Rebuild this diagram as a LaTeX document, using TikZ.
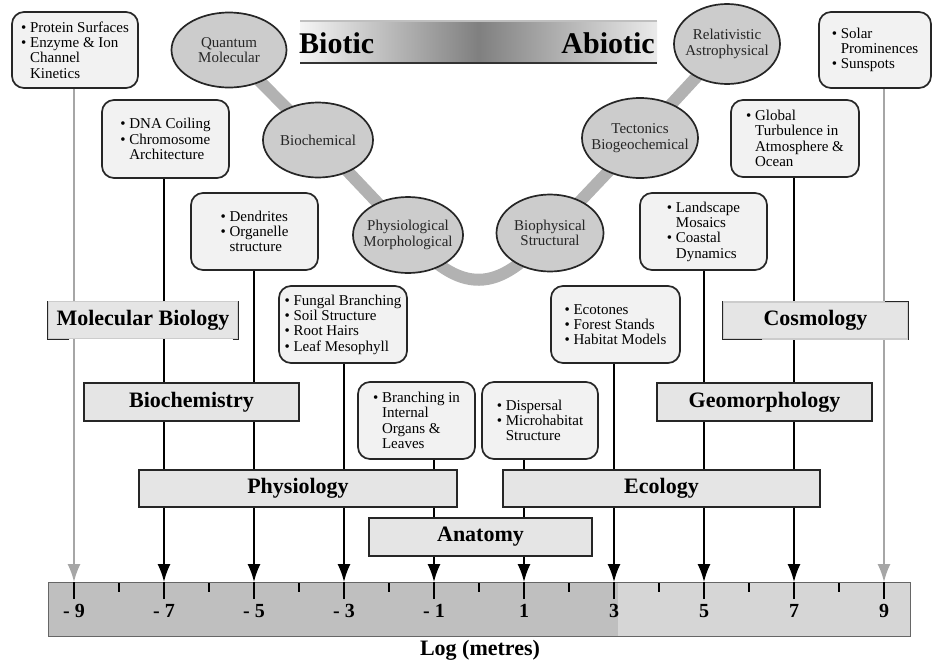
\documentclass[tikz,border=0pt]{standalone}
\usepackage{fontspec}
\setmainfont{Liberation Serif}
\usetikzlibrary{shapes.geometric,arrows.meta,backgrounds}
\tikzset{
  >={Latex[length=18pt,width=13pt]},
}
\tikzstyle{item}=[draw=black!85,line width=1.7pt,rounded corners=12pt,fill=black!5,align=left,inner sep=0pt,font=\fontsize{15}{15.3}\selectfont]
\tikzstyle{realm}=[ellipse,draw=black!85,line width=1.7pt,fill=black!20,text=black!85,align=center,inner sep=-9pt,font=\fontsize{15}{15.3}\selectfont]
\tikzstyle{subject}=[draw=black!85,line width=1.4pt,fill=black!10,inner sep=0pt,minimum height=37pt,font=\fontsize{22}{24}\selectfont\bfseries]
\tikzstyle{band}=[line width=12pt,black!30]
\tikzstyle{scaleline}=[line width=1.7pt,->]
\newcommand{\bul}{\makebox[9pt][l]{\textbullet}}
\newcommand{\ind}{\hspace*{9pt}}

\begin{document}
\begin{tikzpicture}[x=1pt,y=-1pt]
  \useasboundingbox (0,0) rectangle (933,662);
  % biotic / abiotic strip
  \shade[left color=black!4,right color=black!8,middle color=black!50] (300,21) rectangle (657,63);
  \draw[black!25,line width=1.5pt] (300,21) -- (657,21);
  \draw[black!80,line width=1.5pt] (300,63) -- (657,63);
  \node[anchor=west,inner sep=0pt,font=\fontsize{30}{32}\selectfont\bfseries] (biotic) at (299,43) {Biotic};
  \node[anchor=east,inner sep=0pt,font=\fontsize{30}{32}\selectfont\bfseries] (abiotic) at (655,43) {Abiotic};
  % scales of enquiry
  \node[realm,minimum width=115pt,minimum height=75pt] (quantum) at (229,50) {Quantum\\Molecular};
  \node[realm,minimum width=110pt,minimum height=75pt] (biochemical) at (318,140) {Biochemical};
  \node[realm,minimum width=110pt,minimum height=76pt] (physmorph) at (408,235) {Physiological\\Morphological};
  \node[realm,minimum width=107pt,minimum height=77pt] (biophys) at (550,233) {Biophysical\\Structural};
  \node[realm,minimum width=116pt,minimum height=80pt] (tecto) at (640,138) {Tectonics\\Biogeochemical};
  \node[realm,minimum width=106pt,minimum height=80pt] (relat) at (727,44) {Relativistic\\Astrophysical};
  % topics
  \node[item,minimum width=126pt,minimum height=76pt] (protein) at (75,50) {\bul Protein Surfaces\\\bul Enzyme \& Ion\\\ind Channel\\\ind Kinetics};
  \node[item,minimum width=127pt,minimum height=78pt] (dna) at (165.5,139) {\bul DNA Coiling\\\bul Chromosome\\\ind Architecture};
  \node[item,minimum width=127pt,minimum height=77pt] (dendr) at (254.5,231.5) {\bul Dendrites\\\bul Organelle\\\ind structure};
  \node[item,minimum width=128pt,minimum height=77pt] (fungal) at (343,324.5) {\bul Fungal Branching\\\bul Soil Structure\\\bul Root Hairs\\\bul Leaf Mesophyll};
  \node[item,minimum width=117pt,minimum height=77pt] (branch) at (416.5,420.5) {\bul Branching in\\\ind Internal\\\ind Organs \&\\\ind Leaves};
  \node[item,minimum width=116pt,minimum height=77pt] (dispers) at (540,420.5) {\bul Dispersal\\\bul Microhabitat\\\ind Structure};
  \node[item,minimum width=129pt,minimum height=77pt] (ecot) at (615.5,324.5) {\bul Ecotones\\\bul Forest Stands\\\bul Habitat Models};
  \node[item,minimum width=127pt,minimum height=77pt] (landsc) at (703.5,231.5) {\bul Landscape\\\ind Mosaics\\\bul Coastal\\\ind Dynamics};
  \node[item,minimum width=128pt,minimum height=77pt] (global) at (795,138.5) {\bul Global\\\ind Turbulence in\\\ind Atmosphere \&\\\ind Ocean};
  \node[item,minimum width=112pt,minimum height=76pt] (solar) at (875,50) {\bul Solar\\\ind Prominences\\\bul Sunspots};
  % disciplines
  \node[subject,draw=black!20,minimum width=190pt] (molbio) at (143,320) {Molecular Biology};
  \draw[black!85,line width=1.4pt] ([xshift=22pt]molbio.south west) -| (molbio.north west);
  \draw[black!85,line width=1.4pt] ([xshift=-6pt]molbio.south east) -| (molbio.north east);
  \node[subject,minimum width=215pt,minimum height=38pt] (biochm) at (191.5,402) {Biochemistry};
  \node[subject,minimum width=318pt] (physiol) at (298,488.5) {Physiology};
  \node[subject,minimum width=223pt,minimum height=38pt] (anat) at (480.5,537) {Anatomy};
  \node[subject,minimum width=317pt] (ecol) at (661.5,488.5) {Ecology};
  \node[subject,draw=black!20,minimum width=185pt] (cosmo) at (815.5,320.5) {Cosmology};
  \draw[black!85,line width=1.4pt] ([xshift=40pt]cosmo.south west) -| (cosmo.north west);
  \draw[black!85,line width=1.4pt] ([xshift=-24pt]cosmo.north east) -| (cosmo.south east);
  \node[subject,minimum width=215pt,minimum height=38pt] (geomorph) at (764.5,402) {Geomorphology};
  % log scale
  \fill[black!25] (48,582) rectangle (618,636);
  \fill[black!16] (618,582) rectangle (910,636);
  \draw[black!60,line width=1pt] (48,582) rectangle (910,636);
  \foreach \v/\n/\t in {-9/m9/{-\hspace{5pt}9},-7/m7/{-\hspace{5pt}7},-5/m5/{-\hspace{5pt}5},-3/m3/{-\hspace{5pt}3},-1/m1/{-\hspace{5pt}1},1/p1/1,3/p3/3,5/p5/5,7/p7/7,9/p9/9}{
    \coordinate (\n) at ({74+(\v+9)*45},582);
    \draw[line width=1.7pt] (\n) -- ++(0,17);
    \node[font=\fontsize{20}{22}\selectfont\bfseries] (l\n) at ({74+(\v+9)*45},611) {\t};
  }
  \foreach \v in {-8,-6,...,8}
    \draw[line width=1.5pt] ({74+(\v+9)*45},583) -- ++(0,9);
  \node[font=\fontsize{22}{24}\selectfont\bfseries] (axis) at (480,650) {Log (metres)};
  \begin{pgfonlayer}{background}
    \draw[band] (quantum.center) -- (biochemical.center) -- (physmorph.center)
      .. controls (460,295) and (498,295) .. (biophys.center) -- (tecto.center) -- (relat.center);
    \draw[scaleline,black!35] (protein.south -| m9) -- (m9);
    \draw[scaleline] (dna.south -| m7) -- (m7);
    \draw[scaleline] (dendr.south -| m5) -- (m5);
    \draw[scaleline] (fungal.south -| m3) -- (m3);
    \draw[scaleline] (branch.south -| m1) -- (m1);
    \draw[scaleline] (dispers.south -| p1) -- (p1);
    \draw[scaleline] (ecot.south -| p3) -- (p3);
    \draw[scaleline] (landsc.south -| p5) -- (p5);
    \draw[scaleline] (global.south -| p7) -- (p7);
    \draw[scaleline,black!35] (solar.south -| p9) -- (p9);
  \end{pgfonlayer}
\end{tikzpicture}
\end{document}
